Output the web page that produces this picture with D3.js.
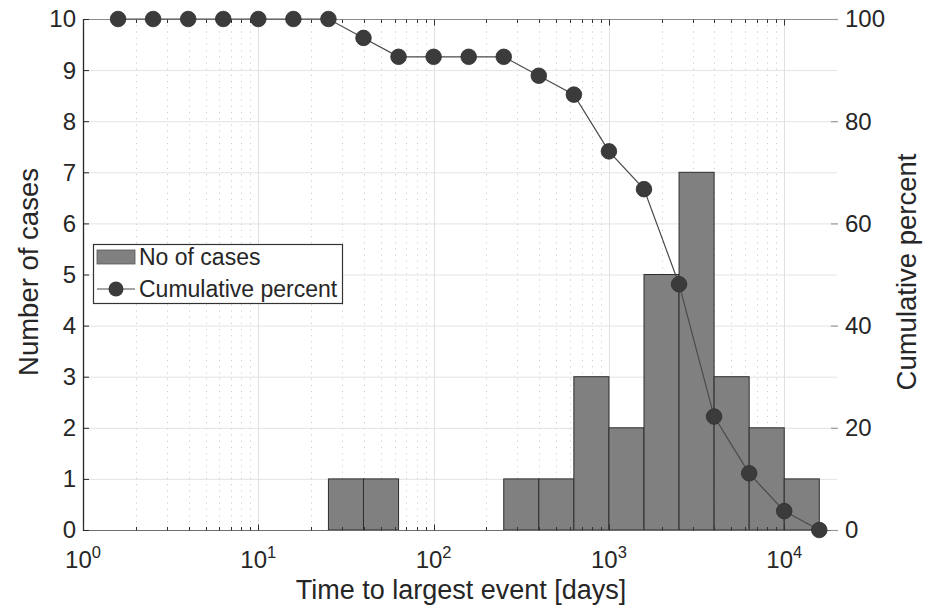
<!DOCTYPE html>
<html>
<head>
<meta charset="utf-8">
<script src="https://cdn.jsdelivr.net/npm/d3@7"></script>
<style>
  html, body { margin: 0; padding: 0; background: #fff; }
  svg { display: block; font-family: "Liberation Sans", Arial, Helvetica, sans-serif; }
</style>
</head>
<body>
<svg id="chart" width="929" height="607"></svg>
<script>
// Histogram bins (days, log-spaced) and case counts
const binLower = [25.12, 39.81, 63.10, 100, 158.5, 251.2, 398.1, 631.0, 1000, 1585, 2512, 3981, 6310, 10000];
const binUpper = [39.81, 63.10, 100, 158.5, 251.2, 398.1, 631.0, 1000, 1585, 2512, 3981, 6310, 10000, 15849];
const caseCounts = [1, 1, 0, 0, 0, 1, 1, 3, 2, 5, 7, 3, 2, 1];

// Cumulative percent of cases still remaining at each bin edge
const cumDays = [1.585, 2.512, 3.981, 6.310, 10, 15.85, 25.12, 39.81, 63.10, 100, 158.5, 251.2, 398.1, 631.0, 1000, 1585, 2512, 3981, 6310, 10000, 15849];
const cumPercent = [100, 100, 100, 100, 100, 100, 100, 96.3, 92.6, 92.6, 92.6, 92.6, 88.9, 85.2, 74.1, 66.7, 48.1, 22.2, 11.1, 3.7, 0];

// Axis ticks
const xMajorTicks = [1, 10, 100, 1000, 10000];
const xTickExponents = ["0", "1", "2", "3", "4"];
const leftTicks = [0, 1, 2, 3, 4, 5, 6, 7, 8, 9, 10];
const rightTicks = [0, 20, 40, 60, 80, 100];

const svg = d3.select("#chart");
const L = 83, R = 837, T = 19, B = 530;
const textColor = "#262626";

const x = d3.scaleLog().domain([1, 20000]).range([L, R]);
const yL = d3.scaleLinear().domain([0, 10]).range([B, T]);
const yR = d3.scaleLinear().domain([0, 100]).range([B, T]);

// minor ticks 2..9 per decade
const xMinorTicks = [];
[1, 10, 100, 1000, 10000].forEach(d => {
  for (let k = 2; k <= 9; k++) { if (d * k < 20000) xMinorTicks.push(d * k); }
});

// --- grid ---
const grid = svg.append("g");
grid.selectAll(".hg").data(leftTicks.slice(1, -1)).join("line")
  .attr("x1", L).attr("x2", R)
  .attr("y1", d => yL(d) + 0.5).attr("y2", d => yL(d) + 0.5)
  .attr("stroke", "#e3e3e3").attr("stroke-width", 1);
grid.selectAll(".vg").data(xMajorTicks.slice(1)).join("line")
  .attr("x1", d => Math.round(x(d)) + 0.5).attr("x2", d => Math.round(x(d)) + 0.5)
  .attr("y1", T).attr("y2", B)
  .attr("stroke", "#e0e0e0").attr("stroke-width", 1);
grid.selectAll(".mg").data(xMinorTicks).join("line")
  .attr("x1", d => Math.round(x(d)) + 0.5).attr("x2", d => Math.round(x(d)) + 0.5)
  .attr("y1", T).attr("y2", B)
  .attr("stroke", "#cfcfcf").attr("stroke-width", 1)
  .attr("stroke-dasharray", "1.2,5");

// --- bars ---
const bars = caseCounts.map((c, i) => ({ lo: binLower[i], hi: binUpper[i], c }))
  .filter(d => d.c > 0);
svg.append("g").selectAll("rect").data(bars).join("rect")
  .attr("x", d => x(d.lo)).attr("width", d => x(d.hi) - x(d.lo))
  .attr("y", d => yL(d.c)).attr("height", d => B - yL(d.c))
  .attr("fill", "#808080").attr("stroke", "#2e2e2e").attr("stroke-width", 1);

// --- axes frame ---
const ax = svg.append("g");
// top border
ax.append("line").attr("x1", L).attr("x2", R + 1).attr("y1", T + 0.5).attr("y2", T + 0.5)
  .attr("stroke", "#8c8c8c").attr("stroke-width", 1.2);
// bottom axis
ax.append("line").attr("x1", L).attr("x2", R + 1).attr("y1", B + 0.5).attr("y2", B + 0.5)
  .attr("stroke", "#6e6e6e").attr("stroke-width", 1.2);
// left axis
ax.append("line").attr("x1", L + 0.5).attr("x2", L + 0.5).attr("y1", T).attr("y2", B + 1)
  .attr("stroke", "#262626").attr("stroke-width", 1.3);

// x ticks (bottom & top, inward)
[[B, -1], [T, 1]].forEach(([y0, dir]) => {
  ax.selectAll(null).data(xMajorTicks).join("line")
    .attr("x1", d => Math.round(x(d)) + 0.5).attr("x2", d => Math.round(x(d)) + 0.5)
    .attr("y1", y0 + 0.5).attr("y2", y0 + 0.5 + dir * 6)
    .attr("stroke", "#333").attr("stroke-width", 1);
  ax.selectAll(null).data(xMinorTicks).join("line")
    .attr("x1", d => Math.round(x(d)) + 0.5).attr("x2", d => Math.round(x(d)) + 0.5)
    .attr("y1", y0 + 0.5).attr("y2", y0 + 0.5 + dir * 3.5)
    .attr("stroke", "#333").attr("stroke-width", 1);
});

// left ticks (inward)
ax.selectAll(null).data(leftTicks).join("line")
  .attr("x1", L).attr("x2", L + 6)
  .attr("y1", d => yL(d) + 0.5).attr("y2", d => yL(d) + 0.5)
  .attr("stroke", "#262626").attr("stroke-width", 1);
// right ticks (inward)
ax.selectAll(null).data(rightTicks).join("line")
  .attr("x1", R - 6).attr("x2", R + 1)
  .attr("y1", d => yR(d) + 0.5).attr("y2", d => yR(d) + 0.5)
  .attr("stroke", "#9a9a9a").attr("stroke-width", 1.2);

// tick labels
ax.selectAll(null).data(leftTicks).join("text")
  .attr("x", L - 7).attr("y", d => yL(d)).attr("dy", "0.35em")
  .attr("text-anchor", "end").attr("font-size", 24).attr("fill", textColor)
  .text(d => d);
ax.selectAll(null).data(rightTicks).join("text")
  .attr("x", R + 8).attr("y", d => yR(d)).attr("dy", "0.35em")
  .attr("text-anchor", "start").attr("font-size", 24).attr("fill", textColor)
  .text(d => d);
const xl = ax.selectAll(null).data(xMajorTicks).join("text")
  .attr("x", d => x(d)).attr("y", 568)
  .attr("text-anchor", "middle").attr("font-size", 24).attr("fill", textColor);
xl.append("tspan").text("10");
xl.append("tspan").attr("font-size", 16.5).attr("dy", -10).text((d, i) => xTickExponents[i]);

// axis labels
svg.append("text").attr("x", 461).attr("y", 599).attr("text-anchor", "middle")
  .attr("font-size", 27).attr("fill", textColor).text("Time to largest event [days]");
svg.append("text").attr("transform", "translate(38,272) rotate(-90)").attr("text-anchor", "middle")
  .attr("font-size", 27.5).attr("fill", textColor).text("Number of cases");
svg.append("text").attr("transform", "translate(916,272) rotate(-90)").attr("text-anchor", "middle")
  .attr("font-size", 27.5).attr("fill", textColor).text("Cumulative percent");

// --- cumulative line ---
const pts = cumDays.map((d, i) => [x(d), yR(cumPercent[i])]);
svg.append("path").attr("d", d3.line()(pts))
  .attr("fill", "none").attr("stroke", "#4a4a4a").attr("stroke-width", 1.2);
svg.append("g").selectAll("circle").data(pts).join("circle")
  .attr("cx", d => d[0]).attr("cy", d => d[1]).attr("r", 7.8)
  .attr("fill", "#3b3b3b").attr("stroke", "#2e2e2e").attr("stroke-width", 0.8);

// --- legend ---
const lg = svg.append("g");
lg.append("rect").attr("x", 93.5).attr("y", 244.5).attr("width", 249).attr("height", 59)
  .attr("fill", "#fff").attr("stroke", "#333").attr("stroke-width", 1.2);
lg.append("rect").attr("x", 97).attr("y", 250).attr("width", 38).attr("height", 14)
  .attr("fill", "#808080").attr("stroke", "#555").attr("stroke-width", 0.8);
lg.append("text").attr("x", 139).attr("y", 265).attr("font-size", 23).attr("fill", textColor)
  .text("No of cases");
lg.append("line").attr("x1", 97).attr("x2", 135).attr("y1", 289).attr("y2", 289)
  .attr("stroke", "#4a4a4a").attr("stroke-width", 1.2);
lg.append("circle").attr("cx", 116).attr("cy", 289).attr("r", 7.5).attr("fill", "#3b3b3b");
lg.append("text").attr("x", 139).attr("y", 297).attr("font-size", 23).attr("fill", textColor)
  .text("Cumulative percent");
</script>
</body>
</html>
